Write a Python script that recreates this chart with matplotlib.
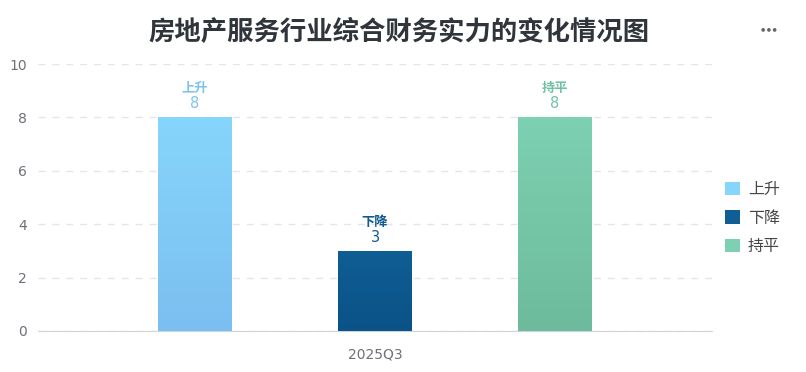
import numpy as np
import matplotlib
matplotlib.use("Agg")
from matplotlib import pyplot as plt
from matplotlib.patches import Patch

plt.rcParams['font.family'] = ['Noto Sans CJK SC', 'DejaVu Sans']

title = "房地产服务行业综合财务实力的变化情况图"
category = "2025Q3"
series = ["上升", "下降", "持平"]
values = [8, 3, 8]
top_colors = ["#86d5fc", "#0f5e94", "#7dd0b2"]
bottom_colors = ["#7bbff0", "#0b5288", "#6dbb9c"]
label_colors = ["#7cc3ef", "#0f5a8e", "#72c1a2"]

fig = plt.figure(figsize=(8.06, 3.72), dpi=100)
ax = fig.add_axes([38 / 806, 41 / 372, 674 / 806, 267 / 372])

x = np.arange(len(series)) - 1
width = 0.41
bars = ax.bar(x, values, width=width, color=top_colors, zorder=2)

# vertical gradient fill, clipped to each bar
for bar, c1, c2 in zip(bars, top_colors, bottom_colors):
    rgb1 = np.array(matplotlib.colors.to_rgb(c1))
    rgb2 = np.array(matplotlib.colors.to_rgb(c2))
    t = np.linspace(0, 1, 64)[:, None]
    grad = (rgb1 * (1 - t) + rgb2 * t)[:, None, :]
    x0, y0 = bar.get_x(), bar.get_y()
    im = ax.imshow(grad, extent=[x0, x0 + bar.get_width(), y0, y0 + bar.get_height()],
                   aspect="auto", origin="upper", zorder=3)
    im.set_clip_path(bar)

for xi, v, name, col in zip(x, values, series, label_colors):
    ax.text(xi, v + 0.52, str(v), ha="center", va="center", fontsize=10.5,
            color=col, family="DejaVu Sans")
    ax.text(xi, v + 1.1, name, ha="center", va="center", fontsize=9.5,
            fontweight="bold", color=col)

ax.set_xlim(-1.872, 1.872)
ax.set_ylim(0, 10)
ax.set_yticks([0, 2, 4, 6, 8, 10])
ax.set_xticks([0])
ax.set_xticklabels([category])
ax.tick_params(axis="both", length=0, labelsize=10, colors="#6e7079")
ax.tick_params(axis="x", pad=12)
ax.tick_params(axis="y", pad=8)
for lab in ax.get_xticklabels() + ax.get_yticklabels():
    lab.set_family("DejaVu Sans")
ax.grid(axis="y", linestyle=(0, (5, 5)), color="#e0e6f1", linewidth=1, zorder=0)
for side in ["top", "right", "left"]:
    ax.spines[side].set_visible(False)
ax.spines["bottom"].set_color("#cfd3dc")
ax.set_axisbelow(True)

handles = [Patch(facecolor=c, edgecolor="none") for c in top_colors]
fig.legend(handles, series, loc="center left", bbox_to_anchor=(711 / 806, 1 - 218 / 372),
           frameon=False, fontsize=11.5, labelcolor="#464646",
           handlelength=0.9, handleheight=0.9, handletextpad=0.5, labelspacing=0.72)

fig.text(399 / 806, 1 - 32 / 372, title, ha="center", va="center",
         fontsize=19, fontweight="bold", color="#30343b")
fig.text(769 / 806, 1 - 29 / 372, "● ● ●", ha="center", va="center",
         fontsize=3.5, color="#666666", family="DejaVu Sans")

fig.savefig("out.png", dpi=100)
